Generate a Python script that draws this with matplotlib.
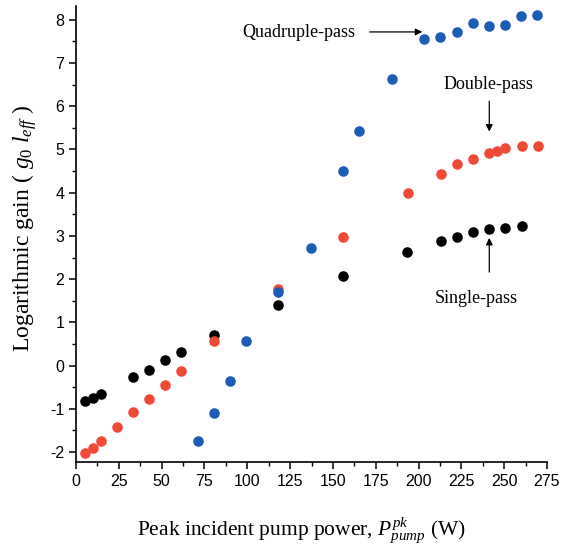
import matplotlib
matplotlib.use("Agg")
import matplotlib.pyplot as plt
from matplotlib.ticker import MultipleLocator

plt.rcParams['mathtext.fontset'] = 'custom'
plt.rcParams['mathtext.rm'] = 'Liberation Serif'
plt.rcParams['mathtext.it'] = 'Liberation Serif:italic'
plt.rcParams['axes.unicode_minus'] = False

# Single-pass (black)
single_x = [5.1, 9.7, 14.4, 33.3, 42.6, 52.0, 61.5, 80.4, 117.9, 156.1, 193.1, 212.9, 222.3, 231.6, 241.1, 250.7, 260.2]
single_y = [-0.82, -0.76, -0.66, -0.26, -0.09, 0.13, 0.32, 0.71, 1.40, 2.07, 2.62, 2.88, 2.98, 3.08, 3.16, 3.19, 3.23]

# Double-pass (red)
double_x = [5.1, 9.7, 14.4, 23.7, 33.3, 42.6, 52.0, 61.5, 80.4, 117.9, 156.1, 194.0, 212.9, 222.3, 231.6, 241.1, 246.0, 250.7, 260.2, 269.6]
double_y = [-2.03, -1.90, -1.74, -1.43, -1.08, -0.78, -0.46, -0.13, 0.57, 1.77, 2.97, 4.00, 4.44, 4.67, 4.79, 4.92, 4.97, 5.04, 5.09, 5.09]

# Quadruple-pass (blue)
quad_x = [71.0, 80.4, 89.9, 99.3, 117.9, 137.2, 156.1, 165.4, 184.5, 203.2, 212.7, 222.3, 231.6, 241.1, 250.7, 260.0, 269.3]
quad_y = [-1.74, -1.09, -0.36, 0.57, 1.70, 2.73, 4.50, 5.43, 6.63, 7.55, 7.61, 7.73, 7.92, 7.85, 7.89, 8.08, 8.11]

x_ticks = [0, 25, 50, 75, 100, 125, 150, 175, 200, 225, 250, 275]
y_ticks = [-2, -1, 0, 1, 2, 3, 4, 5, 6, 7, 8]

fig = plt.figure(figsize=(5.70, 5.53), dpi=100)
ax = fig.add_axes([76/570, 1-462/553, (547-76)/570, (462-6)/553])

ms = 7.6
ax.plot(single_x, single_y, 'o', color='#000000', ms=ms, mec='none')
ax.plot(double_x, double_y, 'o', color='#f04a37', ms=ms, mec='none')
ax.plot(quad_x, quad_y, 'o', color='#1b5cb5', ms=ms, mec='none')

ax.set_xlim(0, 275)
ax.set_ylim(-2.23, 8.32)
ax.set_xticks(x_ticks)
ax.set_yticks(y_ticks)
ax.xaxis.set_minor_locator(MultipleLocator(12.5))
ax.yaxis.set_minor_locator(MultipleLocator(0.5))
for s in ['top', 'right']:
    ax.spines[s].set_visible(False)
for s in ['left', 'bottom']:
    ax.spines[s].set_linewidth(1.2)
ax.tick_params(which='major', direction='out', length=5, width=1.1, labelsize=11.5)
ax.tick_params(which='minor', direction='out', length=3, width=1.0)
for lab in ax.get_xticklabels() + ax.get_yticklabels():
    lab.set_family('Liberation Sans')

serif = 'Liberation Serif'
ax.text(162.9, 7.61, 'Quadruple-pass', ha='right', va='baseline', family=serif, fontsize=13)
ax.annotate('', xy=(203.8, 7.72), xytext=(169.9, 7.72),
            arrowprops=dict(arrowstyle='-|>', color='black', lw=0.9, mutation_scale=10))
ax.text(240.6, 6.40, 'Double-pass', ha='center', va='baseline', family=serif, fontsize=13)
ax.annotate('', xy=(241.3, 5.35), xytext=(241.3, 6.18),
            arrowprops=dict(arrowstyle='-|>', color='black', lw=0.9, mutation_scale=10))
ax.text(233.4, 1.44, 'Single-pass', ha='center', va='baseline', family=serif, fontsize=13)
ax.annotate('', xy=(241.3, 3.02), xytext=(241.3, 2.10),
            arrowprops=dict(arrowstyle='-|>', color='black', lw=0.9, mutation_scale=10))

fig.text(301/570, 1-535/553, r'Peak incident pump power, $P^{pk}_{pump}$ (W)',
         ha='center', va='baseline', family=serif, fontsize=15.5)
fig.text(25/570, 1-228/553, r'Logarithmic gain ( $g_{\mathit{0}}\ l_{eff}$ )',
         ha='center', va='center', rotation=90, family=serif, fontsize=17)

fig.savefig('out.png', dpi=100)
